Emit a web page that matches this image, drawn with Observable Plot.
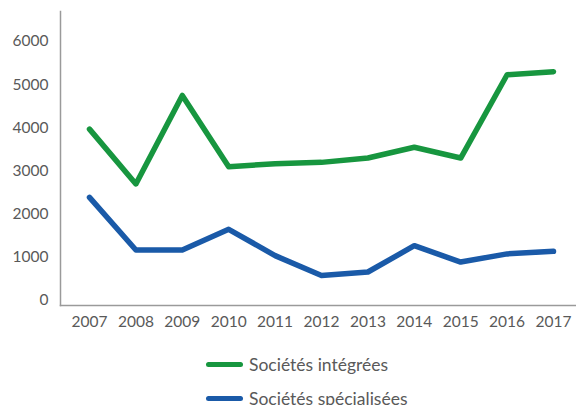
<!DOCTYPE html>
<html>
<head>
<meta charset="utf-8">
<script src="https://cdn.jsdelivr.net/npm/d3@7"></script>
<script src="https://cdn.jsdelivr.net/npm/@observablehq/plot@0.6"></script>
<style>
  html, body { margin: 0; padding: 0; background: #fff; overflow: hidden; }
  #chart svg { display: block; }
  #legend { padding-top: 7px; padding-left: 206px; font-family: Lato, sans-serif; font-size: 17.5px; color: #595959; }
  .row { height: 34px; display: flex; align-items: center; }
  .sw { width: 37px; height: 5px; border-radius: 3px; margin-right: 6px; }
</style>
</head>
<body>
<div id="chart"></div>
<div id="legend"></div>
<script>
const years = [2007, 2008, 2009, 2010, 2011, 2012, 2013, 2014, 2015, 2016, 2017];
const integrees = [3970, 2700, 4750, 3100, 3170, 3200, 3300, 3550, 3300, 5230, 5300];
const specialisees = [2390, 1170, 1170, 1650, 1040, 580, 660, 1270, 890, 1080, 1140];
const seriesNames = ["Sociétés intégrées", "Sociétés spécialisées"];
const seriesColors = ["#17963f", "#1a5aa8"];
const yTicks = [0, 1000, 2000, 3000, 4000, 5000, 6000];

const data = [];
years.forEach((yr, i) => {
  data.push({year: yr, value: integrees[i], series: seriesNames[0]});
  data.push({year: yr, value: specialisees[i], series: seriesNames[1]});
});

const chart = Plot.plot({
  width: 576,
  height: 340,
  marginLeft: 60,
  marginRight: 0,
  marginTop: 11,
  marginBottom: 35,
  style: {fontFamily: "Lato, sans-serif", fontSize: "15.5px", color: "#595959", background: "#fff"},
  x: {type: "linear", domain: [2007, 2017], range: [89, 553]},
  y: {domain: [0, 6000], range: [300, 41]},
  color: {domain: seriesNames, range: seriesColors},
  marks: [
    Plot.axisX({ticks: years, tickFormat: d => String(d), tickSize: 0, tickPadding: 10, fill: "#595959", label: null}),
    Plot.axisY({ticks: yTicks, tickFormat: d => String(d), tickSize: 0, tickPadding: 12, fill: "#595959", textAnchor: "end", label: null}),
    Plot.frame({anchor: "bottom", stroke: "#9a9a9a", strokeWidth: 1.5}),
    Plot.frame({anchor: "left", stroke: "#9a9a9a", strokeWidth: 1.5}),
    Plot.line(data, {x: "year", y: "value", z: "series", stroke: "series", strokeWidth: 5.5, strokeLinejoin: "round", strokeLinecap: "round"})
  ]
});
document.getElementById("chart").appendChild(chart);

const legend = document.getElementById("legend");
seriesNames.forEach((name, i) => {
  const row = document.createElement("div");
  row.className = "row";
  const sw = document.createElement("div");
  sw.className = "sw";
  sw.style.background = seriesColors[i];
  const label = document.createElement("span");
  label.textContent = name;
  row.appendChild(sw);
  row.appendChild(label);
  legend.appendChild(row);
});
</script>
</body>
</html>
